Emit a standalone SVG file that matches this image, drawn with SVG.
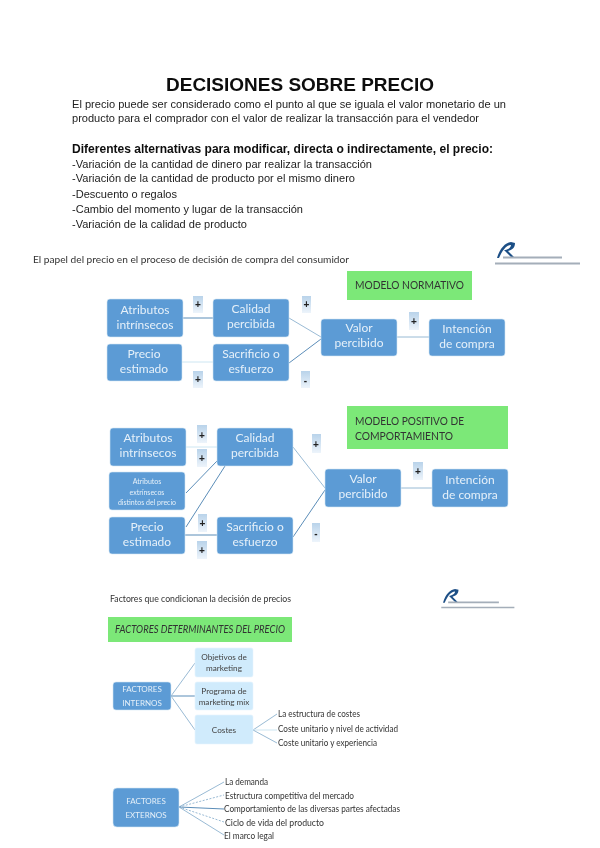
<svg xmlns="http://www.w3.org/2000/svg" width="600" height="848" viewBox="0 0 600 848">
<style>
.body{font-family:"Liberation Sans",Arial,sans-serif;font-size:11.5px;fill:#222}
.bold{font-weight:bold;font-size:12.5px;fill:#111}
.title{font-family:"Liberation Sans",Arial,sans-serif;font-weight:bold;font-size:19px;fill:#111;text-anchor:middle}
.cap{font-family:Lato,"Noto Sans",sans-serif;font-size:10px;fill:#333}
.box{fill:#5b9bd5;stroke:#d5e6f4;stroke-width:.6}
.lbox{fill:#d0ebfc;stroke:#e6f3fd;stroke-width:.6}
.bt{font-family:Lato,"Noto Sans",sans-serif;font-size:12px;fill:#e6f0f9;text-anchor:middle}
.st{font-family:Lato,"Noto Sans",sans-serif;font-size:8px;fill:#e6f0f9;text-anchor:middle}
.xt{font-family:Lato,"Noto Sans",sans-serif;font-size:7px;fill:#e6f0f9;text-anchor:middle}
.dt{font-family:Lato,"Noto Sans",sans-serif;font-size:8.2px;fill:#444;text-anchor:middle}
.lt{font-family:Lato,"Noto Sans",sans-serif;font-size:9.5px;fill:#333}
.green{fill:#7be878}
.gt{font-family:Lato,"Noto Sans",sans-serif;font-size:10.5px;fill:#333}
.chip{fill:url(#chip)}
.ct{font-family:"Liberation Sans",sans-serif;font-weight:bold;font-size:10px;fill:#222;text-anchor:middle}
.c{fill:none;stroke:#5b8db8;stroke-width:1}
.cl{fill:none;stroke:#cde6f2;stroke-width:1}
.cd{fill:none;stroke:#7fa8c9;stroke-width:.8}
.lg{fill:none;stroke:#a4aeb9;stroke-width:2}
</style>
<defs>
<linearGradient id="chip" x1="0" y1="0" x2="0" y2="1"><stop offset="0" stop-color="#b9d3ea"/><stop offset="1" stop-color="#edf4fb"/></linearGradient>
<filter id="soft" x="-2%" y="-2%" width="104%" height="104%"><feGaussianBlur stdDeviation="0.35"/></filter>
<filter id="soft2" x="-2%" y="-2%" width="104%" height="104%"><feGaussianBlur stdDeviation="0.5"/></filter>
<g id="logo">
<path d="M0 16 C3 6 8 1 14 0 L18 1 C18 6 15 8 11 9 L17 15 L14 15 L7 8 C10 8 14 6 14 3 C9 3 5 9 2 16 Z" fill="#1d4f86"/>
<path class="lg" d="M6 15.500H65"/>
<path class="lg" d="M-2 21.500H83"/>
</g>
</defs>
<rect width="600" height="848" fill="#fff"/>
<g id="header" filter="url(#soft)">
<text class="title" x="300" y="90.500" textLength="268" lengthAdjust="spacingAndGlyphs">DECISIONES SOBRE PRECIO</text>
<text class="body" x="72" y="108" textLength="434" lengthAdjust="spacingAndGlyphs">El precio puede ser considerado como el punto al que se iguala el valor monetario de un</text>
<text class="body" x="72" y="122" textLength="407" lengthAdjust="spacingAndGlyphs">producto para el comprador con el valor de realizar la transacción para el vendedor</text>
<text class="body bold" x="72" y="153" textLength="421" lengthAdjust="spacingAndGlyphs">Diferentes alternativas para modificar, directa o indirectamente, el precio:</text>
<text class="body" x="72" y="168" textLength="300" lengthAdjust="spacingAndGlyphs">-Variación de la cantidad de dinero par realizar la transacción</text>
<text class="body" x="72" y="182" textLength="283" lengthAdjust="spacingAndGlyphs">-Variación de la cantidad de producto por el mismo dinero</text>
<text class="body" x="72" y="198" textLength="105" lengthAdjust="spacingAndGlyphs">-Descuento o regalos</text>
<text class="body" x="72" y="213" textLength="231" lengthAdjust="spacingAndGlyphs">-Cambio del momento y lugar de la transacción</text>
<text class="body" x="72" y="228" textLength="175" lengthAdjust="spacingAndGlyphs">-Variación de la calidad de producto</text>
<text class="cap" x="33" y="263" textLength="316" lengthAdjust="spacingAndGlyphs">El papel del precio en el proceso de decisión de compra del consumidor</text>
<use href="#logo" x="497" y="242"/>
</g>

<g id="connectors" filter="url(#soft)">
<path class="c" d="M183 318H213"/>
<path class="cl" d="M182 362H213"/>
<path class="cd" d="M289 318L321 337"/>
<path class="c" d="M289 363L321 339"/>
<path class="cd" d="M397 337H429"/>
<path class="cl" d="M186 447H217"/>
<path class="c" d="M186 493L217 461"/>
<path class="c" d="M186 527L225 466"/>
<path class="c" d="M185 535H217"/>
<path class="cd" d="M293 447L325 488"/>
<path class="c" d="M293 537L325 490"/>
<path class="cd" d="M401 488H432"/>
<path class="cd" d="M171 696L195 663"/>
<path class="c" d="M171 696H195"/>
<path class="cd" d="M171 696L195 730"/>
<path class="cd" d="M253 730L277 714"/>
<path class="cl" d="M253 730H277"/>
<path class="cd" d="M253 730L277 743"/>
<path class="cd" d="M179 807L224 782"/>
<path class="cd" d="M179 807L224 795" stroke-dasharray="2 1.500"/>
<path class="c" d="M179 807L224 809"/>
<path class="cd" d="M179 807L224 822" stroke-dasharray="2 1.500"/>
<path class="cd" d="M179 807L224 835"/>
</g>

<g id="modelo-normativo" filter="url(#soft)">
<rect class="green" x="347" y="271" width="125" height="29"/>
<text class="gt" x="355" y="289" textLength="109" lengthAdjust="spacingAndGlyphs">MODELO NORMATIVO</text>
</g>
<g id="n1-atributos" filter="url(#soft)"><rect class="box" x="107" y="299" width="76" height="38" rx="3"/><text class="bt" x="145" y="314">Atributos</text><text class="bt" x="145" y="329">intrínsecos</text></g>
<g id="n1-calidad" filter="url(#soft)"><rect class="box" x="213" y="299" width="76" height="38" rx="3"/><text class="bt" x="251" y="313">Calidad</text><text class="bt" x="251" y="328">percibida</text></g>
<g id="n1-precio" filter="url(#soft)"><rect class="box" x="107" y="344" width="75" height="37" rx="3"/><text class="bt" x="144" y="358">Precio</text><text class="bt" x="144" y="373">estimado</text></g>
<g id="n1-sacrificio" filter="url(#soft)"><rect class="box" x="213" y="344" width="76" height="37" rx="3"/><text class="bt" x="251" y="358">Sacrificio o</text><text class="bt" x="251" y="373">esfuerzo</text></g>
<g id="n1-valor" filter="url(#soft)"><rect class="box" x="321" y="319" width="76" height="37" rx="3"/><text class="bt" x="359" y="332">Valor</text><text class="bt" x="359" y="347">percibido</text></g>
<g id="n1-intencion" filter="url(#soft)"><rect class="box" x="429" y="319" width="76" height="37" rx="3"/><text class="bt" x="467" y="333">Intención</text><text class="bt" x="467" y="348">de compra</text></g>
<g id="n1-signs" filter="url(#soft)">
<rect class="chip" x="193" y="296" width="10" height="17"/><text class="ct" x="198" y="308">+</text>
<rect class="chip" x="302" y="296" width="9" height="17"/><text class="ct" x="306.500" y="308">+</text>
<rect class="chip" x="409" y="312" width="10" height="18"/><text class="ct" x="414" y="325">+</text>
<rect class="chip" x="193" y="371" width="10" height="17"/><text class="ct" x="198" y="383">+</text>
<rect class="chip" x="301" y="371" width="9" height="17"/><text class="ct" x="305.500" y="384">-</text>
</g>

<g id="modelo-positivo" filter="url(#soft)">
<rect class="green" x="347" y="406" width="161" height="43"/>
<text class="gt" x="355" y="425" textLength="109" lengthAdjust="spacingAndGlyphs">MODELO POSITIVO DE</text>
<text class="gt" x="355" y="440" textLength="98" lengthAdjust="spacingAndGlyphs">COMPORTAMIENTO</text>
</g>
<g id="n2-atributos" filter="url(#soft)"><rect class="box" x="110" y="428" width="76" height="38" rx="3"/><text class="bt" x="148" y="442">Atributos</text><text class="bt" x="148" y="457">intrínsecos</text></g>
<g id="n2-calidad" filter="url(#soft)"><rect class="box" x="217" y="428" width="76" height="38" rx="3"/><text class="bt" x="255" y="442">Calidad</text><text class="bt" x="255" y="457">percibida</text></g>
<g id="n2-extrinsecos" filter="url(#soft)"><rect class="box" x="109" y="472" width="76" height="38" rx="3"/><text class="xt" x="147" y="484">Atributos</text><text class="xt" x="147" y="494.500">extrínsecos</text><text class="xt" x="147" y="505">distintos del precio</text></g>
<g id="n2-precio" filter="url(#soft)"><rect class="box" x="109" y="517" width="76" height="37" rx="3"/><text class="bt" x="147" y="531">Precio</text><text class="bt" x="147" y="546">estimado</text></g>
<g id="n2-sacrificio" filter="url(#soft)"><rect class="box" x="217" y="517" width="76" height="37" rx="3"/><text class="bt" x="255" y="531">Sacrificio o</text><text class="bt" x="255" y="546">esfuerzo</text></g>
<g id="n2-valor" filter="url(#soft)"><rect class="box" x="325" y="469" width="76" height="38" rx="3"/><text class="bt" x="363" y="483">Valor</text><text class="bt" x="363" y="498">percibido</text></g>
<g id="n2-intencion" filter="url(#soft)"><rect class="box" x="432" y="469" width="76" height="38" rx="3"/><text class="bt" x="470" y="484">Intención</text><text class="bt" x="470" y="499">de compra</text></g>
<g id="n2-signs" filter="url(#soft)">
<rect class="chip" x="197" y="425" width="10" height="18"/><text class="ct" x="202" y="439">+</text>
<rect class="chip" x="197" y="449" width="10" height="18"/><text class="ct" x="202" y="462">+</text>
<rect class="chip" x="312" y="434" width="9" height="19"/><text class="ct" x="316" y="448">+</text>
<rect class="chip" x="413" y="462" width="10" height="18"/><text class="ct" x="418" y="475">+</text>
<rect class="chip" x="198" y="514" width="9" height="18"/><text class="ct" x="202.500" y="527">+</text>
<rect class="chip" x="197" y="541" width="10" height="18"/><text class="ct" x="202" y="554">+</text>
<rect class="chip" x="312" y="523" width="8" height="19"/><text class="ct" x="316" y="537">-</text>
</g>

<g id="factores" filter="url(#soft2)">
<text class="cap" x="110" y="602" font-size="9" textLength="181" lengthAdjust="spacingAndGlyphs">Factores que condicionan la decisión de precios</text>
<use href="#logo" transform="translate(443 589) scale(.86)"/>
<rect class="green" x="108" y="617" width="184" height="25"/>
<text class="gt" x="115" y="633" font-style="italic" textLength="170" lengthAdjust="spacingAndGlyphs">FACTORES DETERMINANTES DEL PRECIO</text>
</g>
<g id="f-internos" filter="url(#soft2)"><rect class="box" x="113" y="682" width="58" height="28" rx="3"/><text class="st" x="142" y="692">FACTORES</text><text class="st" x="142" y="706">INTERNOS</text></g>
<g id="f-objetivos" filter="url(#soft2)"><rect class="lbox" x="195" y="648" width="58" height="29" rx="2"/><text class="dt" x="224" y="660">Objetivos de</text><text class="dt" x="224" y="671">marketing</text></g>
<g id="f-programa" filter="url(#soft2)"><rect class="lbox" x="195" y="682" width="58" height="28" rx="2"/><text class="dt" x="224" y="694">Programa de</text><text class="dt" x="224" y="704.500">marketing mix</text></g>
<g id="f-costes" filter="url(#soft2)"><rect class="lbox" x="195" y="715" width="58" height="29" rx="2"/><text class="dt" x="224" y="733">Costes</text></g>
<g id="f-costes-items" filter="url(#soft2)">
<text class="lt" x="278" y="717" textLength="82" lengthAdjust="spacingAndGlyphs">La estructura de costes</text>
<text class="lt" x="278" y="732" textLength="120" lengthAdjust="spacingAndGlyphs">Coste unitario y nivel de actividad</text>
<text class="lt" x="278" y="746" textLength="99" lengthAdjust="spacingAndGlyphs">Coste unitario y experiencia</text>
</g>
<g id="f-externos" filter="url(#soft2)"><rect class="box" x="113" y="788" width="66" height="39" rx="4"/><text class="st" x="146" y="804">FACTORES</text><text class="st" x="146" y="818">EXTERNOS</text></g>
<g id="f-externos-items" filter="url(#soft2)">
<text class="lt" x="225" y="785" textLength="43" lengthAdjust="spacingAndGlyphs">La demanda</text>
<text class="lt" x="225" y="798.500" textLength="129" lengthAdjust="spacingAndGlyphs">Estructura competitiva del mercado</text>
<text class="lt" x="224" y="812" textLength="176" lengthAdjust="spacingAndGlyphs">Comportamiento de las diversas partes afectadas</text>
<text class="lt" x="225" y="825.500" textLength="99" lengthAdjust="spacingAndGlyphs">Ciclo de vida del producto</text>
<text class="lt" x="224" y="839" textLength="50" lengthAdjust="spacingAndGlyphs">El marco legal</text>
</g>
</svg>
